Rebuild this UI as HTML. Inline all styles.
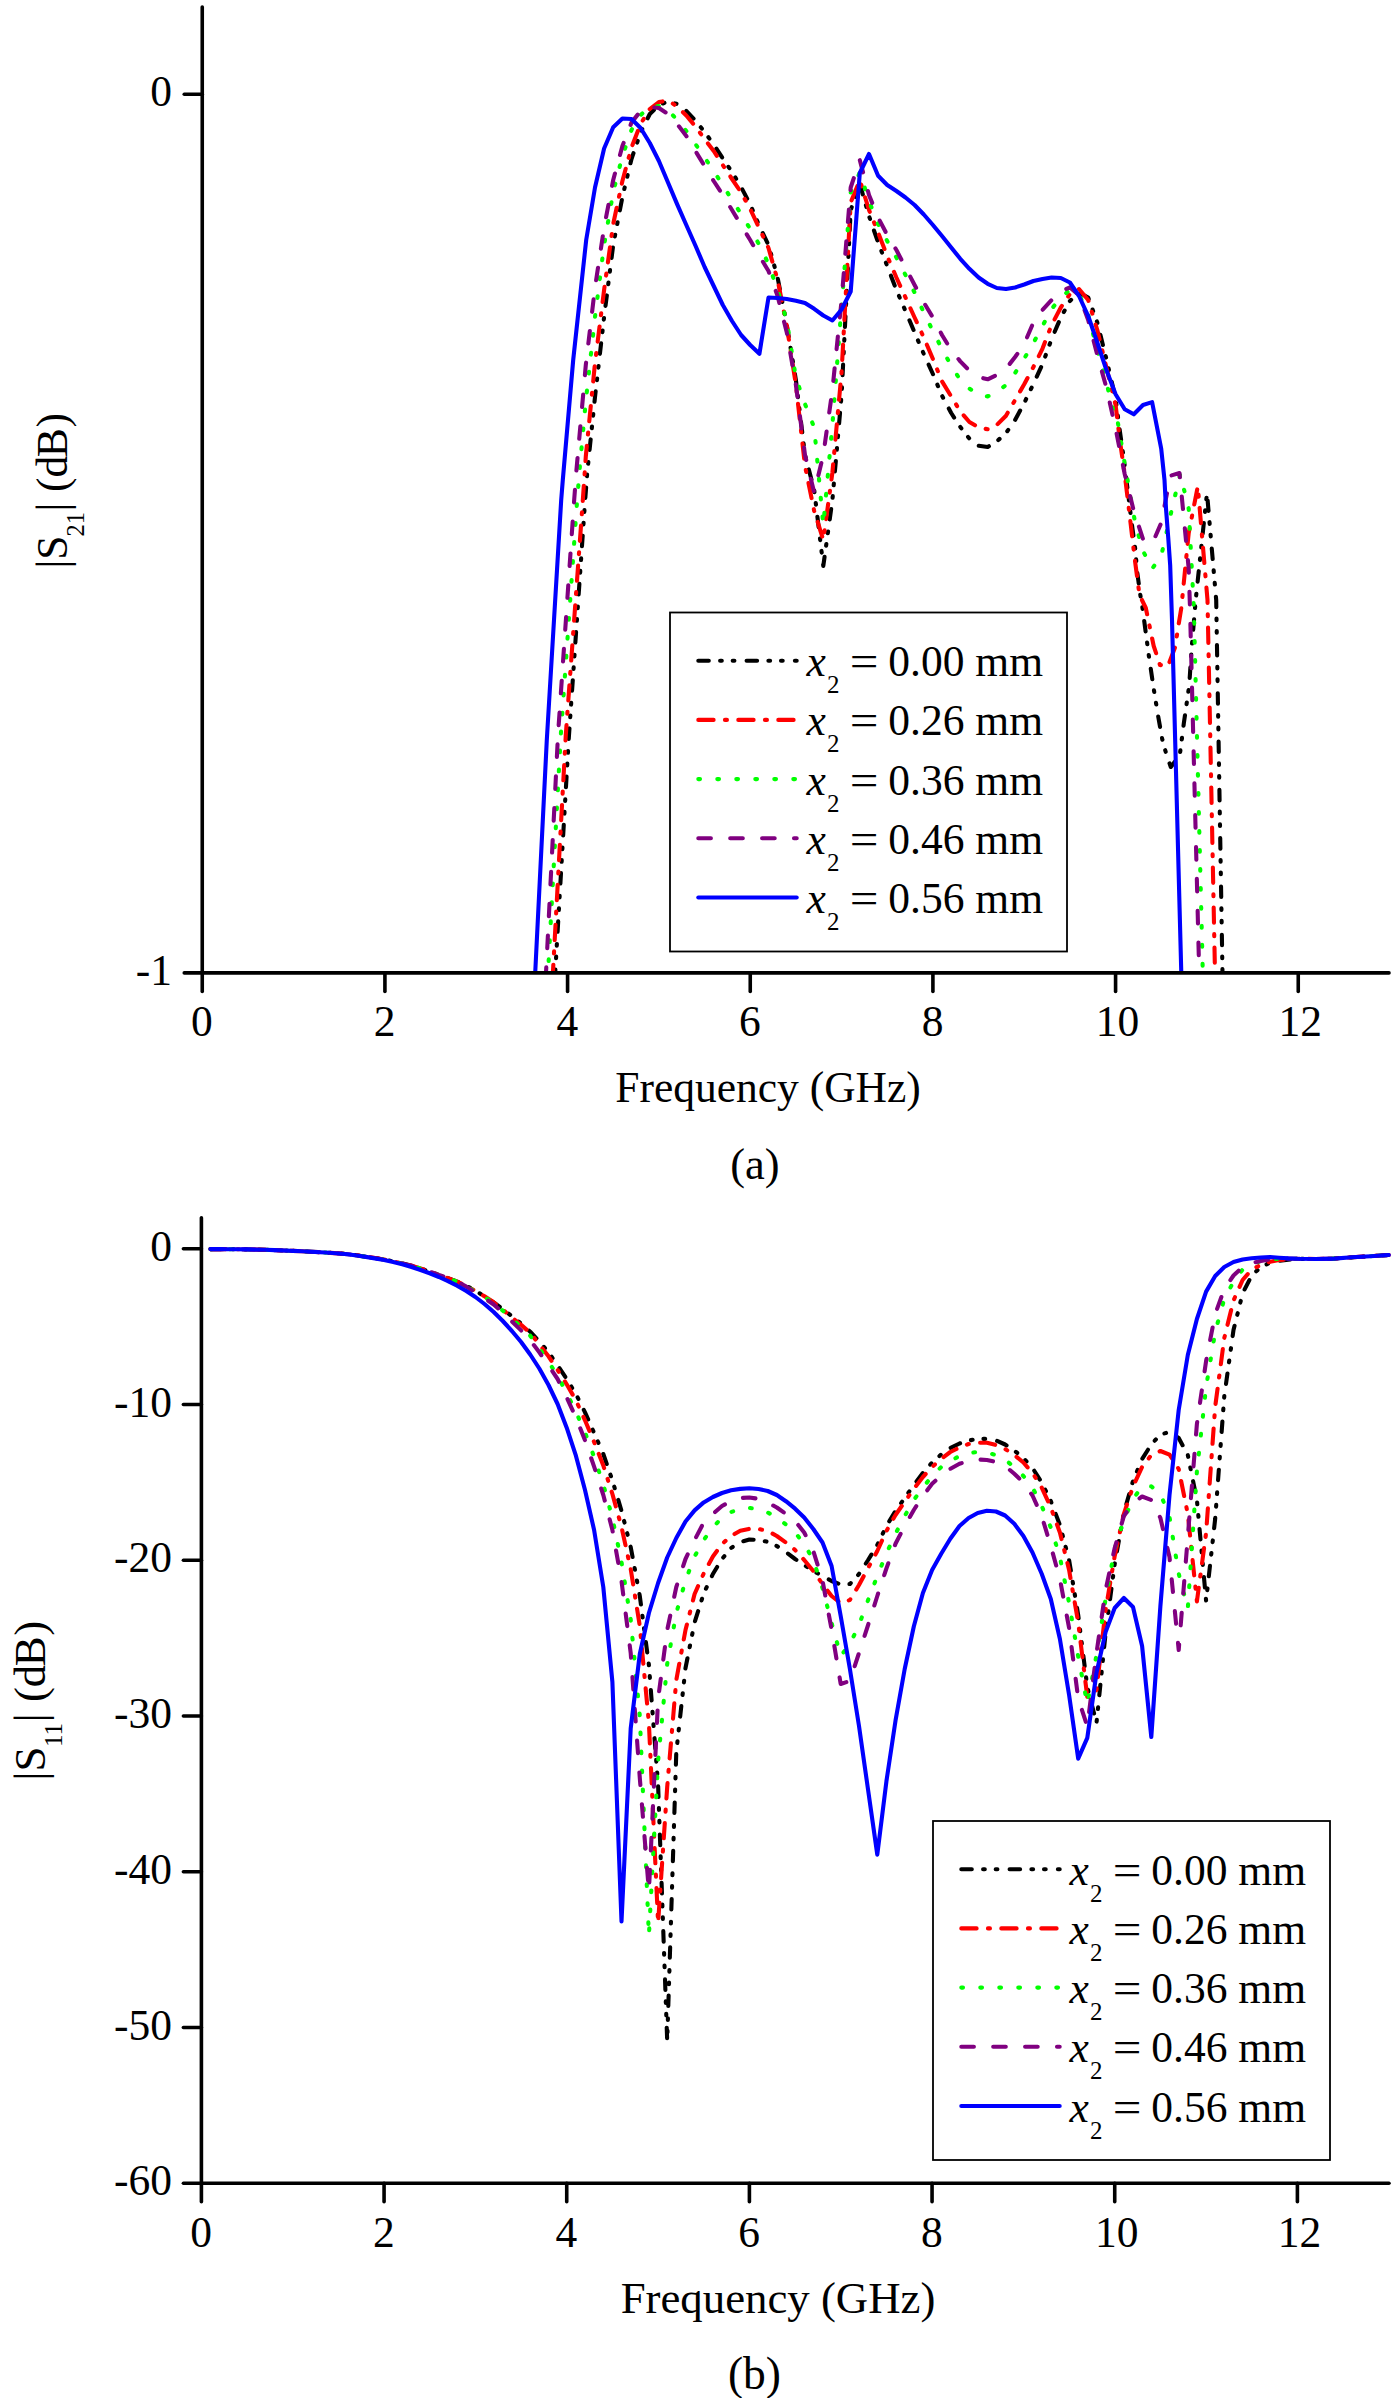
<!DOCTYPE html><html><head><meta charset="utf-8"><title>S-parameters</title>
<style>html,body{margin:0;padding:0;background:#fff}svg{display:block}</style></head><body>
<svg width="1400" height="2398" viewBox="0 0 1400 2398">
<rect width="1400" height="2398" fill="#fff"/>
<defs><clipPath id="ca"><rect x="202.0" y="0" width="1200" height="972.9"/></clipPath><clipPath id="cb"><rect x="202.0" y="1200" width="1200" height="983.1999999999998"/></clipPath></defs>
<path d="M554.9 980.0 L555.2 973.0 L568.8 738.0 L584.8 505.0 L587.2 473.0 L595.0 397.0 L604.1 317.0 L613.2 245.0 L622.4 197.0 L631.5 159.0 L640.6 132.5 L649.8 114.0 L658.9 105.0 L668.0 101.5 L677.2 104.0 L686.3 111.0 L695.4 120.5 L704.6 132.0 L713.7 144.5 L722.8 158.5 L732.0 172.0 L741.1 187.0 L750.2 204.5 L759.4 226.0 L768.5 245.0 L777.6 277.5 L786.8 325.0 L795.9 380.0 L805.0 455.0 L814.2 490.0 L823.3 566.0 L832.4 500.0 L841.6 395.0 L850.7 210.0 L859.8 184.0 L869.0 216.0 L878.1 242.5 L887.2 266.0 L896.4 290.0 L905.5 311.0 L914.6 332.5 L923.8 354.0 L932.9 374.0 L942.0 395.7 L951.2 413.0 L960.3 427.0 L969.4 438.6 L978.6 445.7 L987.7 447.0 L996.8 441.4 L1006.0 433.0 L1015.1 420.0 L1024.2 403.0 L1033.4 384.0 L1042.5 364.0 L1051.6 339.0 L1060.8 317.5 L1069.9 301.0 L1079.0 292.5 L1088.2 297.5 L1097.3 322.5 L1106.4 359.0 L1115.6 398.6 L1119.5 428.6 L1123.8 458.6 L1128.2 494.3 L1131.7 522.9 L1135.2 548.6 L1137.3 572.9 L1140.2 594.3 L1142.5 608.0 L1148.8 655.5 L1153.7 688.7 L1158.3 717.0 L1162.3 739.5 L1166.2 753.7 L1170.8 767.0 L1179.8 755.0 L1183.8 723.6 L1187.0 701.0 L1189.2 685.6 L1191.7 647.5 L1195.7 600.0 L1197.8 580.0 L1207.0 493.0 L1216.2 600.0 L1222.5 973.0 L1222.7 980.0" stroke="#000" stroke-width="4.1" stroke-linecap="round" stroke-linejoin="round" fill="none" stroke-dasharray="10.5 11.3 1.7 10.9 1.7 12.2" clip-path="url(#ca)"/>
<path d="M552.6 980.0 L552.9 973.0 L565.8 735.0 L582.5 505.0 L585.8 456.5 L595.0 363.0 L604.1 290.0 L613.2 224.0 L622.4 181.0 L631.5 147.5 L640.6 124.0 L649.8 109.0 L658.9 102.0 L668.0 100.5 L677.2 106.5 L686.3 115.5 L695.4 126.5 L704.6 139.0 L713.7 151.0 L722.8 165.0 L732.0 179.0 L741.1 192.5 L750.2 209.0 L759.4 228.5 L768.5 248.0 L777.6 280.0 L786.8 326.0 L795.9 385.0 L805.0 466.0 L814.2 511.0 L823.3 540.0 L832.4 472.5 L841.6 372.0 L850.7 202.5 L859.8 180.0 L869.0 210.0 L878.1 232.5 L887.2 256.0 L896.4 277.5 L905.5 297.5 L914.6 317.5 L923.8 337.5 L932.9 359.0 L942.0 381.4 L951.2 396.4 L960.3 411.4 L969.4 422.0 L978.6 427.4 L987.7 429.3 L996.8 425.0 L1006.0 415.7 L1015.1 400.0 L1024.2 384.3 L1033.4 367.0 L1042.5 348.6 L1051.6 325.0 L1060.8 307.5 L1069.9 294.0 L1079.0 289.0 L1088.2 300.0 L1097.3 330.0 L1106.4 367.5 L1115.6 405.0 L1119.8 440.0 L1124.7 474.0 L1130.2 520.0 L1134.5 557.0 L1139.5 595.0 L1145.8 608.0 L1153.7 646.0 L1160.0 665.0 L1168.0 666.0 L1175.0 647.5 L1178.2 627.0 L1181.3 608.0 L1188.7 533.0 L1197.8 486.4 L1207.5 600.0 L1215.0 973.0 L1215.2 980.0" stroke="#f00" stroke-width="4.1" stroke-linecap="round" stroke-linejoin="round" fill="none" stroke-dasharray="15.3 11.35 2 11.35" clip-path="url(#ca)"/>
<path d="M547.8 980.0 L548.0 973.0 L560.8 735.0 L576.8 505.0 L579.8 467.0 L585.8 401.0 L595.0 317.0 L604.1 245.0 L613.2 192.0 L622.4 156.0 L631.5 130.0 L640.6 115.0 L649.8 107.0 L658.9 106.0 L668.0 110.0 L677.2 120.0 L686.3 131.0 L695.4 144.0 L704.6 157.5 L713.7 171.0 L722.8 185.0 L732.0 200.0 L741.1 214.0 L750.2 229.0 L759.4 245.0 L768.5 264.0 L777.6 290.0 L786.8 321.0 L795.9 378.0 L805.0 404.0 L814.2 427.5 L823.3 525.0 L832.4 425.0 L841.6 305.0 L850.7 192.5 L859.8 172.5 L869.0 201.0 L878.1 224.0 L887.2 241.0 L896.4 257.5 L905.5 275.0 L914.6 292.5 L923.8 312.5 L932.9 331.0 L942.0 349.0 L951.2 365.7 L960.3 380.0 L969.4 388.6 L978.6 394.3 L987.7 396.4 L996.8 392.0 L1006.0 385.0 L1015.1 373.0 L1024.2 358.6 L1033.4 343.0 L1042.5 326.0 L1051.6 309.0 L1060.8 297.5 L1069.9 290.0 L1079.0 294.0 L1088.2 315.0 L1097.3 350.0 L1106.4 382.5 L1115.6 420.0 L1117.3 419.3 L1126.0 471.0 L1130.2 495.0 L1135.2 523.0 L1143.0 551.0 L1152.2 568.6 L1161.2 556.0 L1170.3 516.0 L1180.2 474.0 L1188.7 508.6 L1193.8 607.0 L1202.8 973.0 L1203.0 980.0" stroke="#0f0" stroke-width="4.1" stroke-linecap="round" stroke-linejoin="round" fill="none" stroke-dasharray="1.7 17.3" clip-path="url(#ca)"/>
<path d="M545.8 980.0 L546.0 973.0 L558.0 735.0 L573.8 505.0 L576.2 473.0 L585.8 365.0 L595.0 287.5 L604.1 227.5 L613.2 180.0 L622.4 146.0 L631.5 122.5 L640.6 111.0 L649.8 107.0 L658.9 108.0 L668.0 114.0 L677.2 124.0 L686.3 136.0 L695.4 151.0 L704.6 166.0 L713.7 181.0 L722.8 195.0 L732.0 210.0 L741.1 225.0 L750.2 240.0 L759.4 256.0 L768.5 271.0 L777.6 296.0 L786.8 332.5 L795.9 385.0 L805.0 455.0 L814.2 492.5 L823.3 455.0 L832.4 390.0 L841.6 300.0 L850.7 187.5 L859.8 160.0 L869.0 195.0 L878.1 217.5 L887.2 235.0 L896.4 250.0 L905.5 267.5 L914.6 285.0 L923.8 302.5 L932.9 317.5 L942.0 335.0 L951.2 350.0 L960.3 361.4 L969.4 370.7 L978.6 377.0 L987.7 379.3 L996.8 375.0 L1006.0 368.6 L1015.1 357.0 L1024.2 344.0 L1033.4 322.5 L1042.5 310.0 L1051.6 300.0 L1060.8 291.0 L1069.9 287.5 L1079.0 295.0 L1088.2 320.0 L1097.3 355.0 L1106.4 387.5 L1115.6 428.6 L1124.7 474.0 L1133.8 511.0 L1143.0 539.0 L1152.1 544.0 L1161.2 523.0 L1170.4 475.7 L1179.5 473.0 L1188.7 568.6 L1190.0 608.0 L1198.8 956.6 L1199.2 973.0 L1199.3 980.0" stroke="#800080" stroke-width="4.1" stroke-linecap="round" stroke-linejoin="round" fill="none" stroke-dasharray="12.6 19.3" clip-path="url(#ca)"/>
<path d="M535.0 980.0 L535.2 973.0 L546.8 740.0 L554.0 620.0 L561.2 500.0 L562.8 480.0 L573.2 360.0 L586.2 240.0 L595.0 187.5 L604.1 148.5 L613.2 127.3 L622.4 118.5 L631.5 119.0 L640.6 128.0 L649.8 143.0 L658.9 161.0 L668.0 182.5 L677.2 204.4 L686.3 225.0 L695.4 245.5 L704.6 267.0 L713.7 286.0 L722.8 305.0 L732.0 321.0 L741.1 335.0 L750.2 345.0 L759.4 353.8 L768.5 297.5 L777.6 298.0 L786.8 299.0 L795.9 300.8 L805.0 303.0 L814.2 308.8 L823.3 315.5 L832.4 320.5 L841.6 309.5 L850.7 291.5 L859.8 173.0 L869.0 154.0 L878.1 175.8 L887.2 185.0 L896.4 191.0 L905.5 197.5 L914.6 205.0 L923.8 214.5 L932.9 225.0 L942.0 236.0 L951.2 247.5 L960.3 258.8 L969.4 268.8 L978.6 277.5 L987.7 283.8 L996.8 288.0 L1006.0 289.0 L1015.1 287.5 L1024.2 284.5 L1033.4 281.0 L1042.5 279.0 L1051.6 277.5 L1060.8 278.0 L1069.9 282.5 L1079.0 296.0 L1088.2 316.0 L1097.3 342.5 L1106.4 370.0 L1115.6 394.3 L1124.7 409.3 L1133.8 414.3 L1143.0 405.0 L1152.1 402.1 L1161.2 448.6 L1164.5 480.0 L1166.0 508.6 L1168.2 537.1 L1170.2 565.7 L1172.0 620.0 L1181.3 973.0 L1181.5 980.0" stroke="#00f" stroke-width="4.1" stroke-linecap="round" stroke-linejoin="round" fill="none" clip-path="url(#ca)"/>
<path d="M210.5 1249.1 L219.7 1249.1 L228.8 1249.2 L237.9 1249.3 L247.1 1249.4 L256.2 1249.6 L265.3 1249.8 L274.5 1250.2 L283.6 1250.5 L292.7 1250.9 L301.9 1251.3 L311.0 1251.7 L320.1 1252.2 L329.3 1252.8 L338.4 1253.4 L347.5 1254.2 L356.7 1255.3 L365.8 1256.7 L374.9 1258.0 L384.1 1259.5 L393.2 1261.4 L402.3 1263.5 L411.5 1265.8 L420.6 1268.5 L429.7 1271.6 L438.9 1275.0 L448.0 1278.2 L457.1 1281.6 L466.3 1285.8 L475.4 1290.7 L484.5 1296.3 L493.7 1302.5 L502.8 1309.1 L511.9 1316.2 L521.1 1323.6 L530.2 1331.7 L539.3 1341.4 L548.5 1352.3 L557.6 1365.4 L566.7 1379.0 L575.9 1394.0 L585.0 1412.3 L594.1 1432.9 L603.3 1454.0 L612.4 1480.5 L621.5 1510.8 L630.7 1547.0 L639.8 1596.0 L648.9 1665.0 L658.1 1785.0 L667.2 2041.0 L676.3 1752.0 L685.5 1668.0 L694.6 1622.5 L703.7 1593.5 L712.9 1574.0 L722.0 1559.0 L731.1 1548.0 L740.3 1542.0 L749.4 1539.5 L758.5 1540.0 L767.7 1541.8 L776.8 1546.0 L785.9 1552.0 L795.1 1559.0 L804.2 1565.0 L813.3 1571.0 L822.5 1576.0 L831.6 1581.0 L840.7 1584.5 L849.9 1584.0 L859.0 1574.0 L868.1 1560.0 L877.3 1545.0 L886.4 1526.0 L895.5 1511.0 L904.7 1498.0 L913.8 1485.0 L922.9 1473.0 L932.1 1462.5 L941.2 1454.5 L950.3 1448.0 L959.5 1443.5 L968.6 1440.5 L977.7 1439.0 L986.9 1438.8 L996.0 1440.5 L1005.1 1444.5 L1014.3 1450.5 L1023.4 1458.0 L1032.5 1468.0 L1041.7 1482.5 L1050.8 1501.0 L1059.9 1525.0 L1069.1 1560.0 L1078.2 1615.0 L1087.3 1687.0 L1096.5 1723.0 L1105.6 1633.0 L1114.7 1564.0 L1123.9 1512.5 L1133.0 1481.0 L1142.1 1459.0 L1151.3 1444.5 L1160.4 1434.5 L1169.5 1432.0 L1178.7 1438.0 L1187.8 1455.0 L1196.9 1500.0 L1206.1 1600.7 L1215.2 1518.6 L1224.3 1396.0 L1233.5 1330.0 L1242.6 1293.4 L1251.7 1275.5 L1260.9 1267.0 L1270.0 1262.7 L1279.1 1260.7 L1288.3 1259.8 L1297.4 1258.8 L1315.7 1259.0 L1333.9 1258.6 L1352.2 1257.3 L1370.5 1256.2 L1388.7 1255.0" stroke="#000" stroke-width="4.1" stroke-linecap="round" stroke-linejoin="round" fill="none" stroke-dasharray="10.5 11.3 1.7 10.9 1.7 12.2" clip-path="url(#cb)"/>
<path d="M210.5 1249.1 L219.7 1249.1 L228.8 1249.2 L237.9 1249.3 L247.1 1249.4 L256.2 1249.6 L265.3 1249.8 L274.5 1250.2 L283.6 1250.5 L292.7 1250.9 L301.9 1251.3 L311.0 1251.7 L320.1 1252.2 L329.3 1252.8 L338.4 1253.4 L347.5 1254.2 L356.7 1255.3 L365.8 1256.7 L374.9 1258.0 L384.1 1259.5 L393.2 1261.4 L402.3 1263.5 L411.5 1265.8 L420.6 1268.5 L429.7 1271.6 L438.9 1275.0 L448.0 1278.2 L457.1 1281.6 L466.3 1285.9 L475.4 1290.9 L484.5 1296.3 L493.7 1302.3 L502.8 1309.6 L511.9 1317.5 L521.1 1324.8 L530.2 1332.9 L539.3 1344.3 L548.5 1356.3 L557.6 1370.0 L566.7 1384.3 L575.9 1400.3 L585.0 1420.3 L594.1 1442.0 L603.3 1465.5 L612.4 1494.0 L621.5 1527.0 L630.7 1569.0 L639.8 1626.0 L648.9 1723.0 L658.1 1923.0 L667.2 1787.0 L676.3 1680.0 L685.5 1630.0 L694.6 1594.0 L703.7 1573.5 L712.9 1556.5 L722.0 1544.0 L731.1 1536.0 L740.3 1530.8 L749.4 1528.8 L758.5 1529.0 L767.7 1531.0 L776.8 1536.0 L785.9 1542.5 L795.1 1550.0 L804.2 1560.0 L813.3 1571.0 L822.5 1584.0 L831.6 1596.0 L840.7 1603.0 L849.9 1600.0 L859.0 1585.0 L868.1 1568.0 L877.3 1551.0 L886.4 1531.0 L895.5 1515.0 L904.7 1501.8 L913.8 1488.8 L922.9 1477.0 L932.1 1467.0 L941.2 1458.8 L950.3 1452.0 L959.5 1447.5 L968.6 1444.0 L977.7 1442.8 L986.9 1442.8 L996.0 1445.0 L1005.1 1449.0 L1014.3 1455.0 L1023.4 1462.5 L1032.5 1473.0 L1041.7 1487.5 L1050.8 1507.5 L1059.9 1532.5 L1069.1 1570.0 L1078.2 1622.5 L1087.3 1697.0 L1096.5 1690.0 L1105.6 1610.0 L1114.7 1556.0 L1123.9 1513.8 L1133.0 1486.5 L1142.1 1467.0 L1151.3 1455.0 L1160.4 1451.0 L1169.5 1454.6 L1178.7 1469.0 L1187.8 1514.0 L1196.9 1601.4 L1206.1 1533.0 L1215.2 1406.5 L1224.3 1338.0 L1233.5 1300.5 L1242.6 1280.0 L1251.7 1269.6 L1260.9 1264.8 L1270.0 1261.8 L1279.1 1260.0 L1288.3 1259.3 L1297.4 1258.8 L1315.7 1259.0 L1333.9 1258.6 L1352.2 1257.3 L1370.5 1256.2 L1388.7 1255.0" stroke="#f00" stroke-width="4.1" stroke-linecap="round" stroke-linejoin="round" fill="none" stroke-dasharray="15.3 11.35 2 11.35" clip-path="url(#cb)"/>
<path d="M210.5 1249.1 L219.7 1249.1 L228.8 1249.2 L237.9 1249.3 L247.1 1249.4 L256.2 1249.6 L265.3 1249.8 L274.5 1250.2 L283.6 1250.5 L292.7 1250.9 L301.9 1251.3 L311.0 1251.7 L320.1 1252.2 L329.3 1252.8 L338.4 1253.4 L347.5 1254.2 L356.7 1255.3 L365.8 1256.7 L374.9 1258.0 L384.1 1259.5 L393.2 1261.4 L402.3 1263.5 L411.5 1265.8 L420.6 1268.5 L429.7 1271.6 L438.9 1275.0 L448.0 1278.1 L457.1 1281.6 L466.3 1286.2 L475.4 1291.5 L484.5 1296.9 L493.7 1303.0 L502.8 1310.6 L511.9 1319.0 L521.1 1326.8 L530.2 1335.7 L539.3 1348.3 L548.5 1362.0 L557.6 1375.7 L566.7 1393.4 L575.9 1411.7 L585.0 1432.3 L594.1 1456.9 L603.3 1484.5 L612.4 1518.0 L621.5 1562.0 L630.7 1619.5 L639.8 1716.0 L648.9 1935.7 L658.1 1761.0 L667.2 1664.0 L676.3 1613.0 L685.5 1580.5 L694.6 1556.5 L703.7 1540.0 L712.9 1527.5 L722.0 1517.5 L731.1 1512.0 L740.3 1509.0 L749.4 1508.0 L758.5 1509.0 L767.7 1512.5 L776.8 1517.5 L785.9 1524.5 L795.1 1532.5 L804.2 1544.0 L813.3 1560.0 L822.5 1588.0 L831.6 1623.0 L840.7 1656.0 L849.9 1644.0 L859.0 1625.0 L868.1 1600.0 L877.3 1576.0 L886.4 1553.5 L895.5 1533.8 L904.7 1516.0 L913.8 1500.0 L922.9 1487.5 L932.1 1476.0 L941.2 1467.0 L950.3 1461.0 L959.5 1456.0 L968.6 1453.0 L977.7 1452.0 L986.9 1452.8 L996.0 1455.0 L1005.1 1460.0 L1014.3 1466.8 L1023.4 1476.0 L1032.5 1487.5 L1041.7 1506.0 L1050.8 1527.5 L1059.9 1557.0 L1069.1 1603.0 L1078.2 1656.5 L1087.3 1704.0 L1096.5 1655.0 L1105.6 1599.0 L1114.7 1548.5 L1123.9 1520.0 L1133.0 1499.0 L1142.1 1486.5 L1151.3 1486.4 L1160.4 1493.6 L1169.5 1517.0 L1178.7 1573.6 L1187.8 1608.6 L1196.9 1471.4 L1206.1 1387.0 L1215.2 1331.8 L1224.3 1298.8 L1233.5 1281.8 L1242.6 1269.6 L1251.7 1264.0 L1260.9 1261.0 L1270.0 1259.5 L1279.1 1258.7 L1288.3 1258.6 L1297.4 1258.8 L1315.7 1259.0 L1333.9 1258.6 L1352.2 1257.3 L1370.5 1256.2 L1388.7 1255.0" stroke="#0f0" stroke-width="4.1" stroke-linecap="round" stroke-linejoin="round" fill="none" stroke-dasharray="1.7 17.3" clip-path="url(#cb)"/>
<path d="M210.5 1249.1 L219.7 1249.1 L228.8 1249.2 L237.9 1249.3 L247.1 1249.4 L256.2 1249.6 L265.3 1249.8 L274.5 1250.2 L283.6 1250.5 L292.7 1250.9 L301.9 1251.3 L311.0 1251.7 L320.1 1252.2 L329.3 1252.8 L338.4 1253.4 L347.5 1254.2 L356.7 1255.3 L365.8 1256.7 L374.9 1258.0 L384.1 1259.5 L393.2 1261.4 L402.3 1263.5 L411.5 1265.8 L420.6 1268.5 L429.7 1271.6 L438.9 1275.0 L448.0 1278.1 L457.1 1281.6 L466.3 1286.6 L475.4 1292.5 L484.5 1298.2 L493.7 1304.5 L502.8 1312.5 L511.9 1321.4 L521.1 1330.4 L530.2 1340.3 L539.3 1352.3 L548.5 1365.4 L557.6 1379.0 L566.7 1397.4 L575.9 1417.4 L585.0 1440.3 L594.1 1466.6 L603.3 1495.0 L612.4 1530.0 L621.5 1581.0 L630.7 1653.0 L639.8 1778.0 L648.9 1891.0 L658.1 1699.0 L667.2 1630.0 L676.3 1587.0 L685.5 1559.0 L694.6 1540.0 L703.7 1522.5 L712.9 1514.0 L722.0 1506.0 L731.1 1501.0 L740.3 1498.0 L749.4 1497.5 L758.5 1498.8 L767.7 1502.5 L776.8 1507.5 L785.9 1514.0 L795.1 1521.0 L804.2 1532.5 L813.3 1551.0 L822.5 1580.5 L831.6 1629.5 L840.7 1684.0 L849.9 1681.0 L859.0 1653.0 L868.1 1625.0 L877.3 1596.0 L886.4 1568.5 L895.5 1543.8 L904.7 1526.0 L913.8 1510.0 L922.9 1496.0 L932.1 1483.8 L941.2 1475.5 L950.3 1468.8 L959.5 1463.8 L968.6 1460.8 L977.7 1459.5 L986.9 1460.0 L996.0 1462.0 L1005.1 1466.0 L1014.3 1473.8 L1023.4 1482.5 L1032.5 1495.5 L1041.7 1516.0 L1050.8 1546.0 L1059.9 1579.0 L1069.1 1628.0 L1078.2 1698.5 L1087.3 1726.4 L1096.5 1653.0 L1105.6 1590.0 L1114.7 1548.0 L1123.9 1516.0 L1133.0 1503.0 L1142.1 1496.5 L1151.3 1500.0 L1160.4 1518.0 L1169.5 1557.0 L1178.7 1650.0 L1187.8 1537.0 L1196.9 1424.0 L1206.1 1361.0 L1215.2 1314.0 L1224.3 1289.0 L1233.5 1275.5 L1242.6 1267.0 L1251.7 1263.0 L1260.9 1261.0 L1270.0 1259.5 L1279.1 1258.7 L1288.3 1258.6 L1297.4 1258.8 L1315.7 1259.0 L1333.9 1258.6 L1352.2 1257.3 L1370.5 1256.2 L1388.7 1255.0" stroke="#800080" stroke-width="4.1" stroke-linecap="round" stroke-linejoin="round" fill="none" stroke-dasharray="12.6 19.3" clip-path="url(#cb)"/>
<path d="M210.5 1249.1 L219.7 1249.1 L228.8 1249.2 L237.9 1249.3 L247.1 1249.4 L256.2 1249.6 L265.3 1249.8 L274.5 1250.1 L283.6 1250.5 L292.7 1250.9 L301.9 1251.3 L311.0 1251.8 L320.1 1252.3 L329.3 1252.8 L338.4 1253.5 L347.5 1254.3 L356.7 1255.5 L365.8 1256.9 L374.9 1258.4 L384.1 1260.0 L393.2 1262.0 L402.3 1264.3 L411.5 1267.0 L420.6 1270.0 L429.7 1273.3 L438.9 1277.0 L448.0 1281.1 L457.1 1285.7 L466.3 1291.0 L475.4 1297.0 L484.5 1304.0 L493.7 1312.0 L502.8 1321.0 L511.9 1331.0 L521.1 1342.0 L530.2 1354.5 L539.3 1368.5 L548.5 1385.0 L557.6 1404.0 L566.7 1427.7 L575.9 1455.7 L585.0 1490.0 L594.1 1530.0 L603.3 1587.0 L612.4 1682.0 L621.5 1921.4 L630.7 1728.5 L639.8 1654.0 L648.9 1613.0 L658.1 1583.0 L667.2 1557.5 L676.3 1538.0 L685.5 1521.5 L694.6 1510.4 L703.7 1502.4 L712.9 1497.0 L722.0 1493.0 L731.1 1490.3 L740.3 1488.9 L749.4 1488.3 L758.5 1489.0 L767.7 1491.0 L776.8 1495.0 L785.9 1501.2 L795.1 1508.7 L804.2 1517.5 L813.3 1529.0 L822.5 1542.5 L831.6 1566.0 L840.7 1616.0 L849.9 1669.0 L859.0 1726.0 L868.1 1790.0 L877.3 1854.6 L886.4 1781.4 L895.5 1720.7 L904.7 1669.0 L913.8 1626.5 L922.9 1593.0 L932.1 1570.0 L941.2 1553.8 L950.3 1538.8 L959.5 1526.0 L968.6 1518.0 L977.7 1513.0 L986.9 1510.8 L996.0 1511.5 L1005.1 1515.5 L1014.3 1523.8 L1023.4 1536.0 L1032.5 1552.5 L1041.7 1573.8 L1050.8 1599.0 L1059.9 1639.0 L1069.1 1695.0 L1078.2 1758.6 L1087.3 1737.9 L1096.5 1672.9 L1105.6 1632.0 L1114.7 1608.0 L1123.9 1598.0 L1133.0 1607.0 L1142.1 1646.0 L1151.3 1737.0 L1160.4 1606.0 L1169.5 1495.0 L1178.7 1410.0 L1187.8 1355.0 L1196.9 1319.0 L1206.1 1291.6 L1215.2 1276.0 L1224.3 1267.0 L1233.5 1262.0 L1242.6 1259.5 L1251.7 1258.2 L1260.9 1257.5 L1270.0 1257.0 L1279.1 1257.7 L1288.3 1258.4 L1297.4 1258.8 L1315.7 1259.0 L1333.9 1258.6 L1352.2 1257.3 L1370.5 1256.2 L1388.7 1255.0" stroke="#00f" stroke-width="4.1" stroke-linecap="round" stroke-linejoin="round" fill="none" clip-path="url(#cb)"/>
<path d="M202.25 7V991.4" stroke="#000" stroke-width="3.6" stroke-linecap="round" fill="none"/>
<path d="M184.25 972.9H1389" stroke="#000" stroke-width="3.6" stroke-linecap="round" fill="none"/>
<path d="M384.92 972.9v18.5" stroke="#000" stroke-width="3.6" stroke-linecap="round" fill="none"/>
<path d="M567.58 972.9v18.5" stroke="#000" stroke-width="3.6" stroke-linecap="round" fill="none"/>
<path d="M750.25 972.9v18.5" stroke="#000" stroke-width="3.6" stroke-linecap="round" fill="none"/>
<path d="M932.91 972.9v18.5" stroke="#000" stroke-width="3.6" stroke-linecap="round" fill="none"/>
<path d="M1115.58 972.9v18.5" stroke="#000" stroke-width="3.6" stroke-linecap="round" fill="none"/>
<path d="M1298.25 972.9v18.5" stroke="#000" stroke-width="3.6" stroke-linecap="round" fill="none"/>
<text x="201.95" y="1036" text-anchor="middle" font-family="Liberation Serif, Times New Roman, serif" font-size="43.5">0</text>
<text x="384.62" y="1036" text-anchor="middle" font-family="Liberation Serif, Times New Roman, serif" font-size="43.5">2</text>
<text x="567.28" y="1036" text-anchor="middle" font-family="Liberation Serif, Times New Roman, serif" font-size="43.5">4</text>
<text x="749.95" y="1036" text-anchor="middle" font-family="Liberation Serif, Times New Roman, serif" font-size="43.5">6</text>
<text x="932.61" y="1036" text-anchor="middle" font-family="Liberation Serif, Times New Roman, serif" font-size="43.5">8</text>
<text x="1117.58" y="1036" text-anchor="middle" font-family="Liberation Serif, Times New Roman, serif" font-size="43.5">10</text>
<text x="1300.25" y="1036" text-anchor="middle" font-family="Liberation Serif, Times New Roman, serif" font-size="43.5">12</text>
<path d="M184.25 94.3H202.25" stroke="#000" stroke-width="3.6" stroke-linecap="round" fill="none"/>
<text x="172" y="105.90" text-anchor="end" font-family="Liberation Serif, Times New Roman, serif" font-size="43.5">0</text>
<text x="172" y="984.50" text-anchor="end" font-family="Liberation Serif, Times New Roman, serif" font-size="43.5">-1</text>
<path d="M201.4 1217.7V2201.7" stroke="#000" stroke-width="3.6" stroke-linecap="round" fill="none"/>
<path d="M183.4 2183.2H1389" stroke="#000" stroke-width="3.6" stroke-linecap="round" fill="none"/>
<path d="M384.07 2183.2v18.5" stroke="#000" stroke-width="3.6" stroke-linecap="round" fill="none"/>
<path d="M566.73 2183.2v18.5" stroke="#000" stroke-width="3.6" stroke-linecap="round" fill="none"/>
<path d="M749.40 2183.2v18.5" stroke="#000" stroke-width="3.6" stroke-linecap="round" fill="none"/>
<path d="M932.06 2183.2v18.5" stroke="#000" stroke-width="3.6" stroke-linecap="round" fill="none"/>
<path d="M1114.73 2183.2v18.5" stroke="#000" stroke-width="3.6" stroke-linecap="round" fill="none"/>
<path d="M1297.40 2183.2v18.5" stroke="#000" stroke-width="3.6" stroke-linecap="round" fill="none"/>
<text x="201.10" y="2246.5" text-anchor="middle" font-family="Liberation Serif, Times New Roman, serif" font-size="43.5">0</text>
<text x="383.77" y="2246.5" text-anchor="middle" font-family="Liberation Serif, Times New Roman, serif" font-size="43.5">2</text>
<text x="566.43" y="2246.5" text-anchor="middle" font-family="Liberation Serif, Times New Roman, serif" font-size="43.5">4</text>
<text x="749.10" y="2246.5" text-anchor="middle" font-family="Liberation Serif, Times New Roman, serif" font-size="43.5">6</text>
<text x="931.76" y="2246.5" text-anchor="middle" font-family="Liberation Serif, Times New Roman, serif" font-size="43.5">8</text>
<text x="1116.73" y="2246.5" text-anchor="middle" font-family="Liberation Serif, Times New Roman, serif" font-size="43.5">10</text>
<text x="1299.40" y="2246.5" text-anchor="middle" font-family="Liberation Serif, Times New Roman, serif" font-size="43.5">12</text>
<path d="M183.4 1248.75H201.4" stroke="#000" stroke-width="3.6" stroke-linecap="round" fill="none"/>
<text x="172" y="1260.95" text-anchor="end" font-family="Liberation Serif, Times New Roman, serif" font-size="43.5">0</text>
<path d="M183.4 1404.4916666666666H201.4" stroke="#000" stroke-width="3.6" stroke-linecap="round" fill="none"/>
<text x="172" y="1416.69" text-anchor="end" font-family="Liberation Serif, Times New Roman, serif" font-size="43.5">-10</text>
<path d="M183.4 1560.2333333333333H201.4" stroke="#000" stroke-width="3.6" stroke-linecap="round" fill="none"/>
<text x="172" y="1572.43" text-anchor="end" font-family="Liberation Serif, Times New Roman, serif" font-size="43.5">-20</text>
<path d="M183.4 1715.975H201.4" stroke="#000" stroke-width="3.6" stroke-linecap="round" fill="none"/>
<text x="172" y="1728.17" text-anchor="end" font-family="Liberation Serif, Times New Roman, serif" font-size="43.5">-30</text>
<path d="M183.4 1871.7166666666667H201.4" stroke="#000" stroke-width="3.6" stroke-linecap="round" fill="none"/>
<text x="172" y="1883.92" text-anchor="end" font-family="Liberation Serif, Times New Roman, serif" font-size="43.5">-40</text>
<path d="M183.4 2027.458333333333H201.4" stroke="#000" stroke-width="3.6" stroke-linecap="round" fill="none"/>
<text x="172" y="2039.66" text-anchor="end" font-family="Liberation Serif, Times New Roman, serif" font-size="43.5">-50</text>
<text x="172" y="2195.40" text-anchor="end" font-family="Liberation Serif, Times New Roman, serif" font-size="43.5">-60</text>
<rect x="670" y="612.5" width="397" height="339" fill="#fff" stroke="#000" stroke-width="1.8"/>
<path d="M698.3 660.70h98.4" stroke="#000" stroke-width="4.1" stroke-linecap="round" stroke-linejoin="round" fill="none" stroke-dasharray="10.5 11.3 1.7 10.9 1.7 12.2"/>
<text x="806.5" y="676.20" font-family="Liberation Serif, Times New Roman, serif" font-size="43.5" font-style="italic">x</text>
<text x="827.0" y="693.20" font-family="Liberation Serif, Times New Roman, serif" font-size="25">2</text>
<text transform="translate(864.2 676.20) scale(1.17 1)" text-anchor="middle" font-family="Liberation Serif, Times New Roman, serif" font-size="43.5">=</text>
<text x="888.3" y="676.20" font-family="Liberation Serif, Times New Roman, serif" font-size="43.5">0.00 mm</text>
<path d="M698.3 719.90h98.4" stroke="#f00" stroke-width="4.1" stroke-linecap="round" stroke-linejoin="round" fill="none" stroke-dasharray="15.3 11.35 2 11.35"/>
<text x="806.5" y="735.40" font-family="Liberation Serif, Times New Roman, serif" font-size="43.5" font-style="italic">x</text>
<text x="827.0" y="752.40" font-family="Liberation Serif, Times New Roman, serif" font-size="25">2</text>
<text transform="translate(864.2 735.40) scale(1.17 1)" text-anchor="middle" font-family="Liberation Serif, Times New Roman, serif" font-size="43.5">=</text>
<text x="888.3" y="735.40" font-family="Liberation Serif, Times New Roman, serif" font-size="43.5">0.26 mm</text>
<path d="M698.3 779.10h98.4" stroke="#0f0" stroke-width="4.1" stroke-linecap="round" stroke-linejoin="round" fill="none" stroke-dasharray="1.7 17.3"/>
<text x="806.5" y="794.60" font-family="Liberation Serif, Times New Roman, serif" font-size="43.5" font-style="italic">x</text>
<text x="827.0" y="811.60" font-family="Liberation Serif, Times New Roman, serif" font-size="25">2</text>
<text transform="translate(864.2 794.60) scale(1.17 1)" text-anchor="middle" font-family="Liberation Serif, Times New Roman, serif" font-size="43.5">=</text>
<text x="888.3" y="794.60" font-family="Liberation Serif, Times New Roman, serif" font-size="43.5">0.36 mm</text>
<path d="M698.3 838.30h98.4" stroke="#800080" stroke-width="4.1" stroke-linecap="round" stroke-linejoin="round" fill="none" stroke-dasharray="12.6 19.3"/>
<text x="806.5" y="853.80" font-family="Liberation Serif, Times New Roman, serif" font-size="43.5" font-style="italic">x</text>
<text x="827.0" y="870.80" font-family="Liberation Serif, Times New Roman, serif" font-size="25">2</text>
<text transform="translate(864.2 853.80) scale(1.17 1)" text-anchor="middle" font-family="Liberation Serif, Times New Roman, serif" font-size="43.5">=</text>
<text x="888.3" y="853.80" font-family="Liberation Serif, Times New Roman, serif" font-size="43.5">0.46 mm</text>
<path d="M698.3 897.50h98.4" stroke="#00f" stroke-width="4.1" stroke-linecap="round" stroke-linejoin="round" fill="none"/>
<text x="806.5" y="913.00" font-family="Liberation Serif, Times New Roman, serif" font-size="43.5" font-style="italic">x</text>
<text x="827.0" y="930.00" font-family="Liberation Serif, Times New Roman, serif" font-size="25">2</text>
<text transform="translate(864.2 913.00) scale(1.17 1)" text-anchor="middle" font-family="Liberation Serif, Times New Roman, serif" font-size="43.5">=</text>
<text x="888.3" y="913.00" font-family="Liberation Serif, Times New Roman, serif" font-size="43.5">0.56 mm</text>
<rect x="933" y="1821" width="397" height="339" fill="#fff" stroke="#000" stroke-width="1.8"/>
<path d="M961.3 1869.20h98.4" stroke="#000" stroke-width="4.1" stroke-linecap="round" stroke-linejoin="round" fill="none" stroke-dasharray="10.5 11.3 1.7 10.9 1.7 12.2"/>
<text x="1069.5" y="1884.70" font-family="Liberation Serif, Times New Roman, serif" font-size="43.5" font-style="italic">x</text>
<text x="1090.0" y="1901.70" font-family="Liberation Serif, Times New Roman, serif" font-size="25">2</text>
<text transform="translate(1127.2 1884.70) scale(1.17 1)" text-anchor="middle" font-family="Liberation Serif, Times New Roman, serif" font-size="43.5">=</text>
<text x="1151.3" y="1884.70" font-family="Liberation Serif, Times New Roman, serif" font-size="43.5">0.00 mm</text>
<path d="M961.3 1928.40h98.4" stroke="#f00" stroke-width="4.1" stroke-linecap="round" stroke-linejoin="round" fill="none" stroke-dasharray="15.3 11.35 2 11.35"/>
<text x="1069.5" y="1943.90" font-family="Liberation Serif, Times New Roman, serif" font-size="43.5" font-style="italic">x</text>
<text x="1090.0" y="1960.90" font-family="Liberation Serif, Times New Roman, serif" font-size="25">2</text>
<text transform="translate(1127.2 1943.90) scale(1.17 1)" text-anchor="middle" font-family="Liberation Serif, Times New Roman, serif" font-size="43.5">=</text>
<text x="1151.3" y="1943.90" font-family="Liberation Serif, Times New Roman, serif" font-size="43.5">0.26 mm</text>
<path d="M961.3 1987.60h98.4" stroke="#0f0" stroke-width="4.1" stroke-linecap="round" stroke-linejoin="round" fill="none" stroke-dasharray="1.7 17.3"/>
<text x="1069.5" y="2003.10" font-family="Liberation Serif, Times New Roman, serif" font-size="43.5" font-style="italic">x</text>
<text x="1090.0" y="2020.10" font-family="Liberation Serif, Times New Roman, serif" font-size="25">2</text>
<text transform="translate(1127.2 2003.10) scale(1.17 1)" text-anchor="middle" font-family="Liberation Serif, Times New Roman, serif" font-size="43.5">=</text>
<text x="1151.3" y="2003.10" font-family="Liberation Serif, Times New Roman, serif" font-size="43.5">0.36 mm</text>
<path d="M961.3 2046.80h98.4" stroke="#800080" stroke-width="4.1" stroke-linecap="round" stroke-linejoin="round" fill="none" stroke-dasharray="12.6 19.3"/>
<text x="1069.5" y="2062.30" font-family="Liberation Serif, Times New Roman, serif" font-size="43.5" font-style="italic">x</text>
<text x="1090.0" y="2079.30" font-family="Liberation Serif, Times New Roman, serif" font-size="25">2</text>
<text transform="translate(1127.2 2062.30) scale(1.17 1)" text-anchor="middle" font-family="Liberation Serif, Times New Roman, serif" font-size="43.5">=</text>
<text x="1151.3" y="2062.30" font-family="Liberation Serif, Times New Roman, serif" font-size="43.5">0.46 mm</text>
<path d="M961.3 2106.00h98.4" stroke="#00f" stroke-width="4.1" stroke-linecap="round" stroke-linejoin="round" fill="none"/>
<text x="1069.5" y="2121.50" font-family="Liberation Serif, Times New Roman, serif" font-size="43.5" font-style="italic">x</text>
<text x="1090.0" y="2138.50" font-family="Liberation Serif, Times New Roman, serif" font-size="25">2</text>
<text transform="translate(1127.2 2121.50) scale(1.17 1)" text-anchor="middle" font-family="Liberation Serif, Times New Roman, serif" font-size="43.5">=</text>
<text x="1151.3" y="2121.50" font-family="Liberation Serif, Times New Roman, serif" font-size="43.5">0.56 mm</text>
<text x="768" y="1101.5" text-anchor="middle" font-family="Liberation Serif, Times New Roman, serif" font-size="43.5">Frequency (GHz)</text>
<text x="755" y="1179" text-anchor="middle" font-family="Liberation Serif, Times New Roman, serif" font-size="44.5">(a)</text>
<text x="778" y="2313" text-anchor="middle" font-family="Liberation Serif, Times New Roman, serif" font-size="44.8">Frequency (GHz)</text>
<text x="754.5" y="2389.3" text-anchor="middle" font-family="Liberation Serif, Times New Roman, serif" font-size="45.5">(b)</text>
<text transform="translate(66.5 568.5) rotate(-90)" font-family="Liberation Serif, Times New Roman, serif" font-size="43.5">|S<tspan font-size="24.5" dy="17" dx="-1">21</tspan><tspan dy="-17" dx="0.6">| (d</tspan><tspan dx="-1.6">B</tspan><tspan dx="0.8">)</tspan></text>
<text transform="translate(44.5 1780.5) rotate(-90)" font-family="Liberation Serif, Times New Roman, serif" font-size="44.8">|S<tspan font-size="25.2" dy="17" dx="-0.5">11</tspan><tspan dy="-17" dx="0.6">| (d</tspan><tspan dx="-1.6">B</tspan><tspan dx="0.8">)</tspan></text>
</svg></body></html>
